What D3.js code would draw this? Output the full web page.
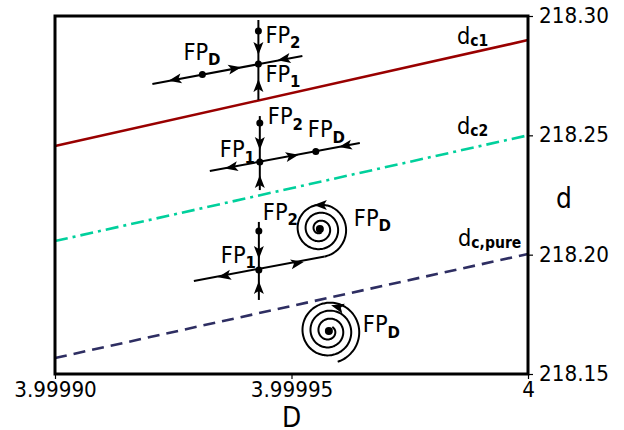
<!DOCTYPE html>
<html>
<head>
<meta charset="utf-8">
<script src="https://cdn.jsdelivr.net/npm/d3@7"></script>
<style>
  body { margin: 0; background: #fff; }
  svg { font-family: "DejaVu Sans", sans-serif; }
</style>
</head>
<body>
<div id="chart"></div>
<script>
// axis data
const Dticks = [3.9999, 3.99995, 4];
const Dlabels = ["3.99990", "3.99995", "4"];
const dticks = [218.15, 218.20, 218.25, 218.30];

// critical lines d_c(D), values at D = 3.9999 and D = 4
const critNames = ["c1", "c2", "c,pure"];
const critLeft = [218.2455, 218.2057, 218.1567];
const critRight = [218.2899, 218.2500, 218.2003];
const critColors = ["#990000", "#00d09c", "#2e2e62"];
const critDash = [null, "13,5,3,5", "12,7"];

// phase portrait anchors (saddle FP1 positions), then lone focus
const saddleD = [3.999943, 3.9999433, 3.9999431];
const saddleV = [218.2799, 218.2388, 218.1936];
const focusD = 3.9999579;
const focusV = 218.1680;

const stretch = 1.1; // text in the original is a bit taller than wide

function drawChart() {
  const width = 624, height = 430;
  const margin = { top: 16, right: 96, bottom: 56, left: 55 };

  const svg = d3.select("#chart").append("svg")
    .attr("width", width)
    .attr("height", height);

  const x = d3.scaleLinear().domain([3.9999, 4]).range([margin.left, width - margin.right]);
  const y = d3.scaleLinear().domain([218.15, 218.30]).range([height - margin.bottom, margin.top]);

  function addText(px, py, size) {
    return svg.append("text")
      .attr("transform", `translate(${px},${py}) scale(1,${stretch})`)
      .style("font-size", size + "px");
  }

  // critical lines
  critNames.forEach((n, i) => {
    svg.append("line")
      .attr("x1", x(3.9999)).attr("y1", y(critLeft[i]))
      .attr("x2", x(4)).attr("y2", y(critRight[i]))
      .attr("stroke", critColors[i])
      .attr("stroke-width", 2.6)
      .attr("stroke-dasharray", critDash[i]);
  });

  // line labels
  const labelPos = [[457, 44], [457, 134], [458, 246]];
  critNames.forEach((n, i) => {
    const t = addText(labelPos[i][0], labelPos[i][1], 21);
    t.append("tspan").text("d");
    t.append("tspan").attr("dy", 2).style("font-size", "14px").style("font-weight", "bold").text(n);
  });

  // phase portraits
  const g = svg.append("g").attr("stroke", "#000").attr("fill", "#000");

  function line(cx, cy, pts) {
    g.append("path")
      .attr("d", d3.line()(pts.map(p => [cx + p[0], cy + p[1]])))
      .attr("fill", "none").attr("stroke-width", 2);
  }
  function dot(cx, cy, dx, dy, r) {
    g.append("circle").attr("cx", cx + dx).attr("cy", cy + dy).attr("r", r || 3.5).attr("stroke", "none");
  }
  function arrow(cx, cy, dx, dy, ang) {
    g.append("path")
      .attr("d", "M7,0 L-6,-5 L-3,0 L-6,5 Z")
      .attr("stroke", "none")
      .attr("transform", `translate(${cx + dx},${cy + dy}) rotate(${ang})`);
  }
  function spiral(cx, cy, th0, r0, turns) {
    const k = 8 / 360;
    const pts = d3.range(0, turns * 360 + 1, 4).map(a => {
      const th = (th0 - a) * Math.PI / 180;
      const r = r0 - k * a;
      return [cx + r * Math.cos(th), cy + r * Math.sin(th)];
    });
    g.append("path").attr("d", d3.line().curve(d3.curveBasis)(pts))
      .attr("fill", "none").attr("stroke-width", 2);
    return pts;
  }
  function fpLabel(px, py, sub) {
    const t = addText(px, py, 21);
    t.append("tspan").text("FP");
    t.append("tspan").attr("dy", 5).style("font-size", "15px").style("font-weight", "bold").text(sub);
  }

  const left = 169.4, right = -10.4, down = 90, up = -90;

  // portrait 1: above d_c1
  let cx = x(saddleD[0]), cy = y(saddleV[0]);
  line(cx, cy, [[0, -44], [0, 36]]);
  line(cx, cy, [[-106, 20], [44, -8]]);
  dot(cx, cy, 0, 0); dot(cx, cy, 0, -33); dot(cx, cy, -56, 10.5);
  arrow(cx, cy, 0, -16, down); arrow(cx, cy, 0, 22, up);
  arrow(cx, cy, -83, 15.5, left); arrow(cx, cy, -24, 4.5, right); arrow(cx, cy, 26, -4.9, left);
  fpLabel(cx - 75, cy - 4, "D");
  fpLabel(cx + 7, cy - 21, "2");
  fpLabel(cx + 7, cy + 18, "1");

  // portrait 2: between d_c1 and d_c2
  cx = x(saddleD[1]); cy = y(saddleV[1]);
  line(cx, cy, [[0, -46], [0, 28]]);
  line(cx, cy, [[-50, 9], [100, -19]]);
  dot(cx, cy, 0, 0); dot(cx, cy, 0, -39); dot(cx, cy, 56, -10.5);
  arrow(cx, cy, 0, -19, down); arrow(cx, cy, 0, 20, up);
  arrow(cx, cy, -28, 5.2, left); arrow(cx, cy, 32, -6, right); arrow(cx, cy, 86, -16.3, left);
  fpLabel(cx + 8, cy - 38, "2");
  fpLabel(cx - 40, cy - 5, "1");
  fpLabel(cx + 48, cy - 25, "D");

  // portrait 3: between d_c2 and d_c,pure
  cx = x(saddleD[2]); cy = y(saddleV[2]);
  line(cx, cy, [[0, -48], [0, 30]]);
  const sp3 = spiral(cx + 61, cy - 41, 80, 28, 3.05);
  line(cx, cy, [[-65, 11], [sp3[0][0] - cx, sp3[0][1] - cy]]);
  dot(cx, cy, 0, 0); dot(cx, cy, 0, -39); dot(cx, cy, 61, -41, 4);
  arrow(cx, cy, 0, -18, down); arrow(cx, cy, 0, 18, up);
  arrow(cx, cy, -34, 5.9, left); arrow(cx, cy, 38, -6.7, right);
  arrow(cx, cy, 62, -65, 180);
  fpLabel(cx + 4, cy - 50, "2");
  fpLabel(cx - 38, cy - 7, "1");
  fpLabel(cx + 95, cy - 44, "D");

  // portrait 4: below d_c,pure
  cx = x(focusD); cy = y(focusV);
  spiral(cx, cy, 74, 32, 3.35);
  dot(cx, cy, 0, 0, 4);
  arrow(cx, cy, 9, -24, 195);
  fpLabel(cx + 34, cy + 1, "D");

  // frame
  svg.append("rect")
    .attr("x", x(3.9999)).attr("y", y(218.30))
    .attr("width", x(4) - x(3.9999)).attr("height", y(218.15) - y(218.30))
    .attr("fill", "none").attr("stroke", "#000").attr("stroke-width", 3);

  // axes
  const xAxis = svg.append("g")
    .attr("transform", `translate(0,${y(218.15)})`)
    .call(d3.axisBottom(x).tickValues(Dticks).tickFormat((d, i) => Dlabels[i]).tickSize(5).tickPadding(2));
  const yAxis = svg.append("g")
    .attr("transform", `translate(${x(4)},0)`)
    .call(d3.axisRight(y).tickValues(dticks).tickFormat(d3.format(".2f")).tickSize(5).tickPadding(6));
  [xAxis, yAxis].forEach(a => {
    a.select(".domain").remove();
    a.selectAll(".tick line").attr("stroke", "#000").attr("stroke-width", 1.2);
    a.selectAll(".tick text").attr("fill", "#000")
      .attr("transform", `scale(1,${stretch})`)
      .style("font-size", "20px").style("font-family", "DejaVu Sans, sans-serif");
  });
  yAxis.selectAll(".tick text").attr("dy", "0.3em");

  addText((x(3.9999) + x(4)) / 2, 427, 25).attr("text-anchor", "middle").text("D");
  addText(564, 208, 25).attr("text-anchor", "middle").text("d");
}

drawChart();
</script>
</body>
</html>
